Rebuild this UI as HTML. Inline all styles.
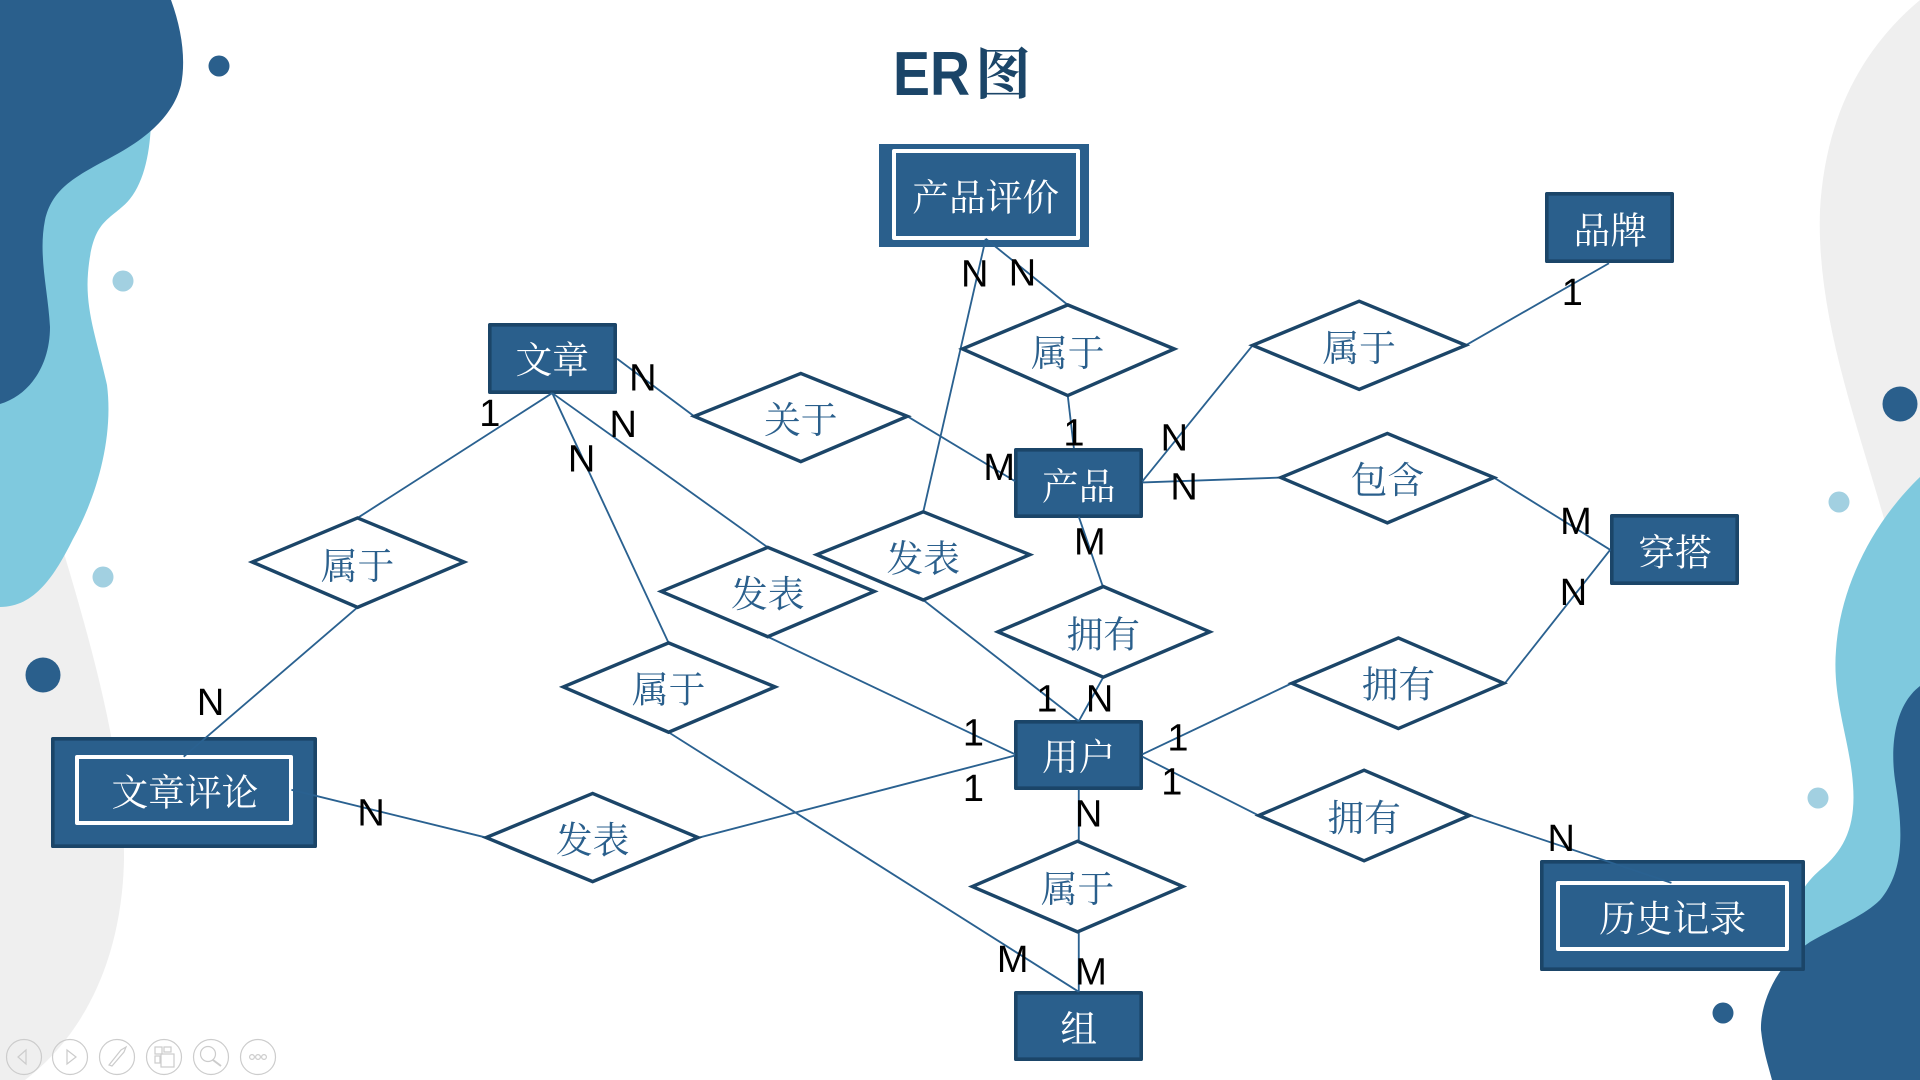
<!DOCTYPE html>
<html><head><meta charset="utf-8"><style>
html,body{margin:0;padding:0;background:#fff;width:1920px;height:1080px;overflow:hidden}
svg{display:block}
.c{font-family:"Liberation Serif","Noto Serif CJK SC",serif;font-size:30px;text-anchor:middle}
.w{fill:#fff}.b{fill:#2A5F8C}
.l{font-family:"Liberation Sans",sans-serif;font-size:31px;text-anchor:middle;fill:#000}
</style></head><body>
<svg width="1920" height="1080" viewBox="0 0 1920 1080" xmlns="http://www.w3.org/2000/svg">
<rect width="1920" height="1080" fill="#fff"/>
<!-- background blobs -->
<path d="M60,540C90,640 125,760 124,860C122,950 90,1030 25,1080L0,1080L0,560Z" fill="#EFEFEF"/>
<path d="M1920,0C1860,50 1825,120 1820,210C1816,320 1860,430 1890,540L1920,640Z" fill="#EFEFEF"/>
<path d="M0,0L155,0L151,122C150,155 143,190 122,207C105,222 92,225 88,273C85,310 97,340 107,385C114,440 95,500 73,539C55,575 35,607 0,607Z" fill="#7FC9DE"/>
<path d="M171,0C182,30 186,60 181,85C172,120 140,142 110,158C72,178 52,190 45,220C38,255 48,290 50,327C50,365 30,395 0,404L0,0Z" fill="#2A5F8C"/>
<path d="M1920,477C1870,525 1840,590 1836,650C1832,700 1850,740 1853,785C1856,825 1845,850 1820,870C1800,888 1790,905 1790,960L1920,960Z" fill="#7FC9DE"/>
<path d="M1920,686C1895,705 1890,745 1895,780C1903,830 1905,870 1880,900C1865,915 1840,925 1810,942C1775,965 1760,1005 1761,1030C1763,1050 1768,1065 1772,1080L1920,1080Z" fill="#2A5F8C"/>
<!-- dots -->
<circle cx="219" cy="66" r="10.5" fill="#2A5F8C"/>
<circle cx="123" cy="281" r="10.5" fill="#A2D0E1"/>
<circle cx="103" cy="577" r="10.5" fill="#A2D0E1"/>
<circle cx="43" cy="675" r="17.5" fill="#2A5F8C"/>
<circle cx="1900" cy="404" r="17.5" fill="#2A5F8C"/>
<circle cx="1839" cy="502" r="10.5" fill="#A2D0E1"/>
<circle cx="1818" cy="798" r="10.5" fill="#A2D0E1"/>
<circle cx="1723" cy="1013" r="10.5" fill="#2A5F8C"/>
<!-- toolbar -->
<g fill="none" stroke="#CCCCCC" stroke-width="1.2">
<circle cx="24" cy="1057" r="17.5"/><circle cx="70" cy="1057" r="17.5"/><circle cx="117" cy="1057" r="17.5"/><circle cx="164" cy="1057" r="17.5"/><circle cx="211" cy="1057" r="17.5"/><circle cx="258" cy="1057" r="17.5"/>
<path d="M26,1050L18,1057L26,1064Z"/><path d="M67,1050L76,1057L67,1064Z"/>
<path d="M109,1065L121,1050L126,1047L124,1052L112,1066Z"/>
<rect x="155" y="1047" width="7" height="7"/><rect x="164" y="1047" width="7" height="5"/><rect x="155" y="1056" width="5" height="7"/><rect x="161" y="1054" width="13" height="13"/>
<circle cx="208" cy="1054" r="7.5"/><path d="M213,1060L221,1066" stroke-width="2"/>
<circle cx="252" cy="1057" r="2.4"/><circle cx="258" cy="1057" r="2.4"/><circle cx="264" cy="1057" r="2.4"/>
</g>
<!-- title -->
<text x="893" y="95" font-family="'Liberation Sans',sans-serif" font-weight="700" font-size="62" fill="#1B4568" textLength="77" lengthAdjust="spacingAndGlyphs">ER</text>
<text x="1003" y="94" font-family="'Noto Serif CJK SC',serif" font-weight="700" font-size="56" fill="#1B4568" text-anchor="middle">图</text>
<!-- entities -->
<g fill="#2A5F8C" stroke="#1B4568" stroke-width="3.6" stroke-linejoin="round">
<rect x="1015.8" y="449.8" width="125.4" height="66.4"/>
<rect x="1015.8" y="721.8" width="125.4" height="66.4"/>
<rect x="1015.8" y="992.8" width="125.4" height="66.4"/>
<rect x="1546.8" y="193.8" width="125.4" height="67.4"/>
<rect x="1611.8" y="515.8" width="125.4" height="67.4"/>
<rect x="489.8" y="324.8" width="125.4" height="67.4"/>
<rect x="52.8" y="738.8" width="262.4" height="107.4"/>
<rect x="1541.8" y="861.8" width="261.4" height="107.4"/>
</g>
<rect x="879" y="144" width="210" height="103" fill="#2A5F8C"/>
<g fill="none" stroke="#fff" stroke-width="4" stroke-linejoin="round">
<rect x="894" y="151" width="184" height="87"/>
<rect x="77" y="757" width="214" height="66"/>
<rect x="1558" y="883" width="229" height="66"/>
</g>
<g transform="scale(1.22449)">
<!-- connectors -->
<g stroke="#2A6190" stroke-width="1.5" fill="none">
<path d="M805,195L754,418"/>
<path d="M805,195L872,249"/>
<path d="M872,323L877,366"/>
<path d="M933,393L1023,282"/>
<path d="M1197,282L1314,215"/>
<path d="M933,394L1046,390"/>
<path d="M1220,390L1315,449"/>
<path d="M1229,558L1315,449"/>
<path d="M881,422L901,480"/>
<path d="M901,553L881,589"/>
<path d="M754,490L881,589"/>
<path d="M627,520L829,616"/>
<path d="M504,293L567,340"/>
<path d="M741,340L829,393"/>
<path d="M451,321L292,423"/>
<path d="M292,496L150,618"/>
<path d="M451,321L627,447"/>
<path d="M451,321L546,525"/>
<path d="M546,598L881,810"/>
<path d="M238,645L397,684"/>
<path d="M571,684L829,617"/>
<path d="M933,616L1055,558"/>
<path d="M933,618L1028,666"/>
<path d="M1201,666L1365,721"/>
<path d="M881,645L881,687"/>
<path d="M881,761L881,810"/>
</g>
<!-- relationships -->
<g fill="#fff" stroke="#1B4568" stroke-width="2.8" stroke-linejoin="miter">
<path d="M786,285L872,249L959,285L872,323Z"/>
<path d="M1023,282L1110,246L1197,282L1110,318Z"/>
<path d="M567,340L654,305L741,340L654,377Z"/>
<path d="M1046,390L1133,354L1220,390L1133,427Z"/>
<path d="M206,459L292,423L379,459L292,496Z"/>
<path d="M667,453L754,418L841,453L754,490Z"/>
<path d="M540,483L627,447L714,483L627,520Z"/>
<path d="M815,516L901,479L988,516L901,553Z"/>
<path d="M460,561L546,525L633,561L546,598Z"/>
<path d="M1055,558L1142,521L1228,558L1142,595Z"/>
<path d="M1028,666L1114,629L1200,666L1114,703Z"/>
<path d="M794,724L880,687L966,724L880,761Z"/>
<path d="M397,684L484,648L570,684L484,720Z"/>
</g>
<!-- entity text -->
<g class="c w" transform="translate(0,0.8)">
<text x="805" y="171">产品评价</text>
<text x="1315" y="198">品牌</text>
<text x="451" y="304">文章</text>
<text x="881" y="407">产品</text>
<text x="1368" y="461">穿搭</text>
<text x="881" y="628">用户</text>
<text x="881" y="850">组</text>
<text x="151" y="657">文章评论</text>
<text x="1366" y="760">历史记录</text>
</g>
<!-- relationship text -->
<g class="c b" transform="translate(0,0.8)">
<text x="872" y="298">属于</text>
<text x="1110" y="294">属于</text>
<text x="654" y="353">关于</text>
<text x="1133" y="402">包含</text>
<text x="292" y="472">属于</text>
<text x="754" y="466">发表</text>
<text x="627" y="495">发表</text>
<text x="901" y="528">拥有</text>
<text x="546" y="573">属于</text>
<text x="1142" y="569">拥有</text>
<text x="1114" y="678">拥有</text>
<text x="880" y="736">属于</text>
<text x="484" y="696">发表</text>
</g>
<!-- cardinalities -->
<g class="l" transform="translate(0,-1)">
<text x="796" y="235">N</text><text x="835" y="234">N</text><text x="1284" y="250">1</text>
<text x="525" y="320">N</text><text x="509" y="358">N</text><text x="475" y="386">N</text>
<text x="400" y="349">1</text><text x="877" y="365">1</text><text x="959" y="369">N</text>
<text x="967" y="409">N</text><text x="816" y="393">M</text><text x="1287" y="437">M</text>
<text x="890" y="454">M</text><text x="1285" y="495">N</text><text x="855" y="582">1</text>
<text x="898" y="582">N</text><text x="172" y="585">N</text><text x="795" y="610">1</text>
<text x="795" y="655">1</text><text x="962" y="614">1</text><text x="957" y="650">1</text>
<text x="303" y="675">N</text><text x="889" y="676">N</text><text x="1275" y="696">N</text>
<text x="827" y="795">M</text><text x="891" y="805">M</text>
</g>
</g>
</svg>
</body></html>
